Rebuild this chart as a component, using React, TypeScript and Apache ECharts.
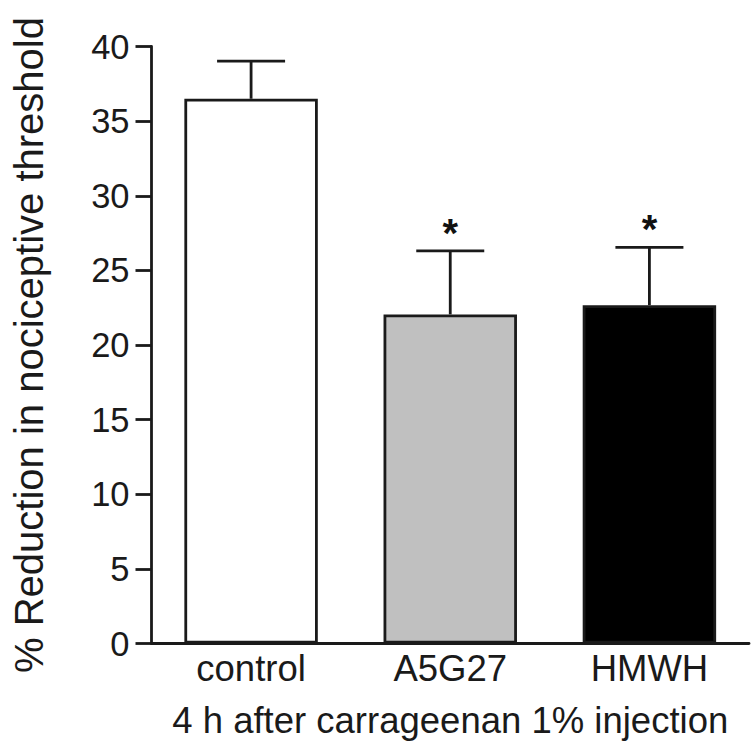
import React, { useEffect, useRef } from "react";
import * as echarts from "echarts";

const categories = ["control", "A5G27", "HMWH"];
const means = [36.5, 22.05, 22.67];
const errors = [2.52, 4.26, 3.87];
const significant = [0, 1, 1];
const yTicks = [0, 5, 10, 15, 20, 25, 30, 35, 40];

const FONT = "'Liberation Sans', Arial, Helvetica, sans-serif";
const INK = "#1a1a1a";
const barFills = ["#ffffff", "#c0c0c0", "#000000"];

export default function App() {
  const ref = useRef<HTMLDivElement>(null);
  useEffect(() => {
    if (!ref.current) return;
    const chart = echarts.init(ref.current, null, { renderer: "svg" });
    const option = {
      animation: false,
      backgroundColor: "#ffffff",
      grid: { left: 151.5, right: 6, top: 46.5, bottom: 112.5, containLabel: false },
      xAxis: {
        type: "category",
        data: categories,
        name: "4 h after carrageenan 1% injection",
        nameLocation: "middle",
        nameGap: 58,
        nameTextStyle: { fontFamily: FONT, fontSize: 36.5, color: INK },
        axisLine: { show: true, lineStyle: { color: INK, width: 2.8 } },
        axisTick: { show: false },
        axisLabel: { fontFamily: FONT, fontSize: 36.5, color: INK, margin: 6 },
      },
      yAxis: {
        type: "value",
        min: yTicks[0],
        max: yTicks[yTicks.length - 1],
        interval: 5,
        name: "% Reduction in nociceptive threshold",
        nameLocation: "middle",
        nameGap: 103,
        nameRotate: 90,
        nameTextStyle: { fontFamily: FONT, fontSize: 40, color: INK },
        axisLine: { show: true, lineStyle: { color: INK, width: 2.8 } },
        axisTick: { show: true, length: 16, lineStyle: { color: INK, width: 2.8 } },
        axisLabel: { fontFamily: FONT, fontSize: 34.5, color: INK, margin: 22 },
        splitLine: { show: false },
      },
      series: [
        {
          type: "bar",
          barWidth: "67%",
          data: means.map((v, i) => ({
            value: v,
            itemStyle: { color: barFills[i], borderColor: INK, borderWidth: 2.8 },
          })),
          z: 2,
        },
        {
          type: "custom",
          z: 3,
          data: means.map((m, i) => [i, m, m + errors[i], significant[i]]),
          renderItem: (params: any, api: any) => {
            const x = api.value(0);
            const m = api.value(1);
            const u = api.value(2);
            const sig = api.value(3);
            const p0 = api.coord([x, m]);
            const p1 = api.coord([x, u]);
            const half = 34;
            const style = { stroke: INK, lineWidth: 2.8 };
            const children: any[] = [
              { type: "line", shape: { x1: p0[0], y1: p0[1], x2: p1[0], y2: p1[1] }, style },
              { type: "line", shape: { x1: p1[0] - half, y1: p1[1], x2: p1[0] + half, y2: p1[1] }, style },
            ];
            if (sig) {
              children.push({
                type: "text",
                x: p1[0],
                y: p1[1] - 18,
                style: {
                  text: "*",
                  fontSize: 40,
                  fontWeight: "bold",
                  fontFamily: FONT,
                  align: "center",
                  verticalAlign: "middle",
                  fill: "#111111",
                },
              });
            }
            return { type: "group", children };
          },
        },
      ],
    };
    chart.setOption(option as any);
    return () => chart.dispose();
  }, []);
  return (
    <div
      ref={ref}
      style={{ position: "absolute", left: 0, top: 0, width: 755, height: 756, background: "#fff" }}
    />
  );
}
